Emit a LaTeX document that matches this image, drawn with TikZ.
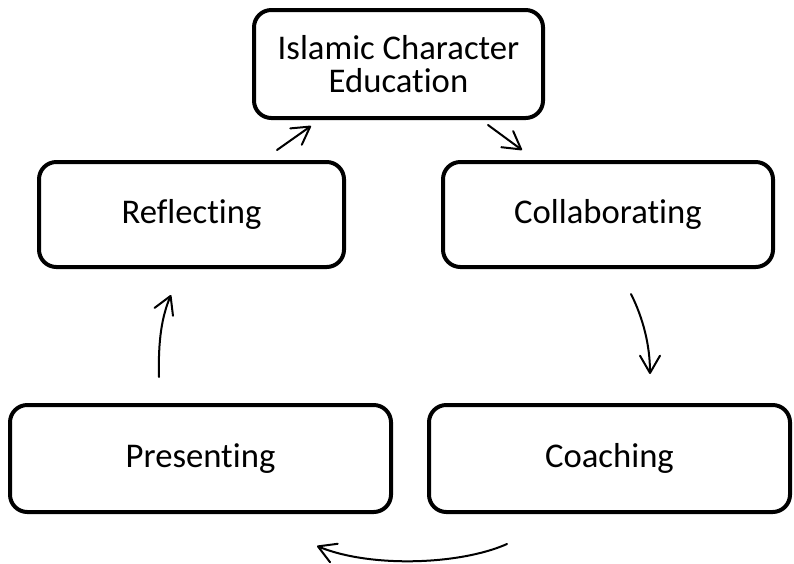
\documentclass[tikz,border=0pt]{standalone}
\usepackage{fontspec}
\setmainfont{Carlito}[RawFeature={-liga;-clig}]
\usetikzlibrary{arrows.meta}
\begin{document}
\begin{tikzpicture}[x=0.75pt,y=-0.75pt,
  box/.style={draw=black, line width=3pt, rounded corners=13pt, fill=white,
    inner sep=0pt, align=center, font=\fontsize{26}{24.75}\selectfont},
  conn/.style={draw=black, line width=1.5pt, line cap=round,
    -{Straight Barb[angle=60:15pt, line cap=round, line join=round]}}
]
\useasboundingbox (0,0) rectangle (794,564);
\node[box, minimum width=216.75pt, minimum height=81pt] (top) at (398.5,64) {Islamic Character\\Education};
\node[box, minimum width=228.75pt, minimum height=78.75pt] (refl) at (191.5,214.5) {Reflecting};
\node[box, minimum width=247.5pt, minimum height=78.75pt] (collab) at (608,214.5) {Collaborating};
\node[box, minimum width=285.75pt, minimum height=80.25pt] (pres) at (200.5,458.5) {Presenting};
\node[box, minimum width=270.75pt, minimum height=80.25pt] (coach) at (609.5,458.5) {Coaching};

\coordinate (a1s) at (277,150); \coordinate (a1e) at (311,126);
\coordinate (a2s) at (488,125); \coordinate (a2e) at (522,150);
\coordinate (a3s) at (631,294); \coordinate (a3e) at (650,374);
\coordinate (a4s) at (507,544); \coordinate (a4e) at (317,546);
\coordinate (a5s) at (159,377); \coordinate (a5e) at (171,295);

\draw[conn] (a1s) -- (a1e);
\draw[conn] (a2s) -- (a2e);
\draw[conn] (a3s) .. controls (643,318) and (650,345) .. (a3e);
\draw[conn] (a4s) .. controls (460,565) and (370,568) .. (a4e);
\draw[conn] (a5s) .. controls (158,340) and (162,316) .. (a5e);
\end{tikzpicture}
\end{document}
